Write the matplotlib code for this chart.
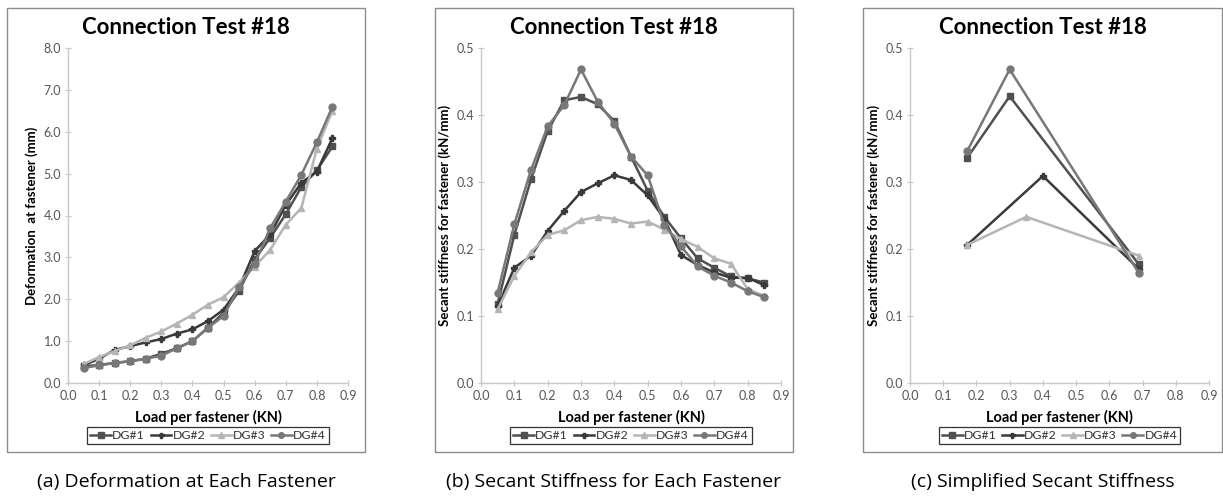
import matplotlib
matplotlib.use("Agg")
import matplotlib.pyplot as plt
from matplotlib.patches import Rectangle

plt.rcParams['font.family'] = ['Lato', 'DejaVu Sans']

# panel (a) and (b): load steps
load = [0.05, 0.10, 0.15, 0.20, 0.25, 0.30, 0.35, 0.40, 0.45,
        0.50, 0.55, 0.60, 0.65, 0.70, 0.75, 0.80, 0.85]

# (a) deformation at fastener (mm)
def_dg1 = [0.40, 0.43, 0.48, 0.52, 0.58, 0.70, 0.83, 1.00, 1.32,
           1.68, 2.20, 2.95, 3.47, 4.03, 4.68, 5.08, 5.65]
def_dg2 = [0.42, 0.58, 0.79, 0.88, 0.97, 1.05, 1.18, 1.28, 1.48,
           1.75, 2.28, 3.15, 3.55, 4.25, 4.78, 5.05, 5.85]
def_dg3 = [0.45, 0.62, 0.76, 0.90, 1.08, 1.23, 1.42, 1.63, 1.87,
           2.05, 2.40, 2.78, 3.18, 3.78, 4.18, 5.60, 6.50]
def_dg4 = [0.36, 0.42, 0.48, 0.52, 0.58, 0.65, 0.83, 1.00, 1.32,
           1.60, 2.30, 2.85, 3.70, 4.33, 4.97, 5.75, 6.60]

# (b) secant stiffness (kN/mm)
stf_dg1 = [0.118, 0.221, 0.304, 0.376, 0.422, 0.427, 0.416, 0.391, 0.338,
           0.287, 0.248, 0.216, 0.186, 0.172, 0.159, 0.156, 0.150]
stf_dg2 = [0.115, 0.172, 0.190, 0.227, 0.257, 0.285, 0.298, 0.310, 0.303,
           0.280, 0.245, 0.191, 0.176, 0.165, 0.157, 0.157, 0.146]
stf_dg3 = [0.110, 0.160, 0.195, 0.221, 0.228, 0.243, 0.248, 0.245, 0.238,
           0.241, 0.229, 0.215, 0.203, 0.186, 0.178, 0.140, 0.130]
stf_dg4 = [0.135, 0.237, 0.318, 0.383, 0.415, 0.468, 0.420, 0.387, 0.338,
           0.310, 0.236, 0.204, 0.174, 0.160, 0.150, 0.137, 0.128]

# (c) simplified secant stiffness
simp_x_dg1 = [0.172, 0.30, 0.689]
simp_y_dg1 = [0.336, 0.428, 0.177]
simp_x_dg2 = [0.172, 0.40, 0.689]
simp_y_dg2 = [0.206, 0.309, 0.170]
simp_x_dg3 = [0.172, 0.35, 0.689]
simp_y_dg3 = [0.206, 0.248, 0.190]
simp_x_dg4 = [0.172, 0.30, 0.689]
simp_y_dg4 = [0.346, 0.468, 0.164]

labels = ["DG#1", "DG#2", "DG#3", "DG#4"]
colors = ["#505050", "#3a3a3a", "#b5b5b5", "#787878"]
markers = ["s", "P", "^", "o"]
msizes = [5, 4.5, 5, 5]

W, H = 1223, 497
fig = plt.figure(figsize=(W / 100, H / 100), dpi=100)


def fx(px):
    return px / W


def fy(py):
    return 1 - py / H


def panel(ax_px, frame_px, xs, ys, ymax, ystep, yfmt, ylabel, caption):
    x0, x1 = ax_px
    ax = fig.add_axes([fx(x0), fy(383), fx(x1 - x0), fy(48) - fy(383)])
    for i in range(4):
        ax.plot(xs[i], ys[i], color=colors[i], marker=markers[i], lw=1.8,
                ms=msizes[i], mec=colors[i], label=labels[i])
    ax.set_xlim(0, 0.9)
    ax.set_ylim(0, ymax)
    ax.set_xticks([i / 10 for i in range(10)])
    ax.set_xticklabels([f"{i / 10:.1f}" for i in range(10)])
    n = int(round(ymax / ystep))
    ax.set_yticks([k * ystep for k in range(n + 1)])
    ax.set_yticklabels([yfmt.format(k * ystep) for k in range(n + 1)])
    for s in ["top", "right"]:
        ax.spines[s].set_visible(False)
    for s in ["left", "bottom"]:
        ax.spines[s].set_color("#c8c8c8")
        ax.spines[s].set_linewidth(1.0)
    ax.tick_params(direction="inout", length=4, color="#c8c8c8",
                   labelsize=9, labelcolor="#555555", pad=3)
    ax.set_ylabel(ylabel, fontsize=9.5, fontweight="bold", labelpad=4)
    ax.set_xlabel("Load per fastener (KN)", fontsize=10.5, fontweight="bold",
                  labelpad=6)
    leg = ax.legend(loc="upper center", bbox_to_anchor=(0.5, -0.132), ncol=4,
                    fontsize=8.8, frameon=True, fancybox=False, handlelength=1.7,
                    handletextpad=0.1, columnspacing=0.45, borderpad=0.25,
                    markerscale=0.8, borderaxespad=0)
    leg.get_frame().set_edgecolor("black")
    leg.get_frame().set_linewidth(0.9)
    for t in leg.get_texts():
        t.set_color("#333333")
    fl, fr = frame_px
    fig.patches.append(Rectangle((fx(fl), fy(452)), fx(fr - fl), fy(8) - fy(452),
                                 transform=fig.transFigure, fill=False,
                                 edgecolor="#8c8c8c", lw=1.0))
    cx = fx((fl + fr) / 2)
    fig.text(cx, fy(28), "Connection Test #18", ha="center", va="center",
             fontsize=16, fontweight="bold")
    fig.text(cx, fy(482), caption, ha="center", va="center",
             fontsize=14, family=["Open Sans", "DejaVu Sans"])
    return ax


panel((68, 348), (7, 365), [load] * 4,
      [def_dg1, def_dg2, def_dg3, def_dg4], 8.0, 1.0, "{:.1f}",
      "Deformation  at fastener (mm)", "(a) Deformation at Each Fastener")
panel((481, 781), (435, 793), [load] * 4,
      [stf_dg1, stf_dg2, stf_dg3, stf_dg4], 0.5, 0.1, "{:.1f}",
      "Secant stiffness for fastener (kN/mm)", "(b) Secant Stiffness for Each Fastener")
panel((910, 1209), (863, 1222),
      [simp_x_dg1, simp_x_dg2, simp_x_dg3, simp_x_dg4],
      [simp_y_dg1, simp_y_dg2, simp_y_dg3, simp_y_dg4], 0.5, 0.1, "{:.1f}",
      "Secant stiffness for fastener (kN/mm)", "(c) Simplified Secant Stiffness")

fig.savefig("out.png", dpi=100)
